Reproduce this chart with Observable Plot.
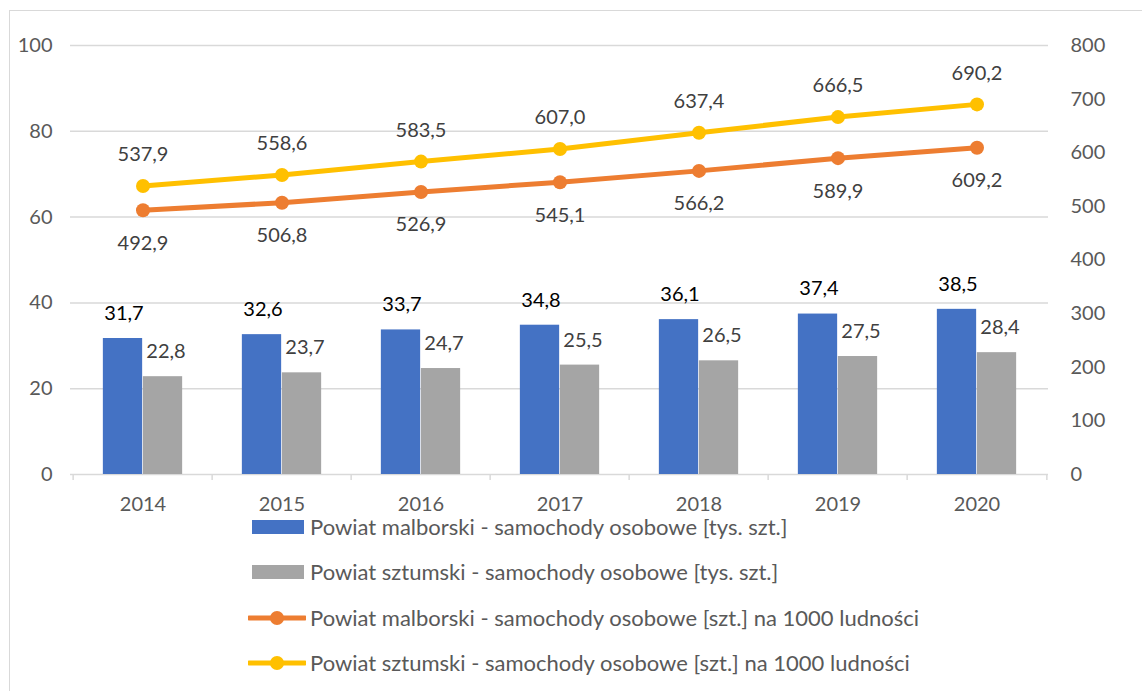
<!DOCTYPE html>
<html>
<head>
<meta charset="utf-8">
<script src="https://cdn.jsdelivr.net/npm/d3@7"></script>
<script src="https://cdn.jsdelivr.net/npm/@observablehq/plot@0.6"></script>
<style>
  body { margin: 0; background: #fff; font-family: Lato, "Open Sans", sans-serif; }
  #frame { position: absolute; left: 9px; top: 10px; width: 1140px; height: 690px; border: 1.5px solid #d9d9d9; box-sizing: border-box; }
  #chart { position: absolute; left: 0; top: 0; }
  #legend { position: absolute; left: 248px; top: 515px; color: #595959; font-size: 22px; }
  .row { height: 45.3px; display: flex; align-items: flex-start; }
  .row svg { margin-right: 4px; }
  .row span { line-height: 22px; margin-top: 1px; }
</style>
</head>
<body>
<div id="frame"></div>
<div id="chart"></div>
<div id="legend"></div>
<script>
const years = ["2014","2015","2016","2017","2018","2019","2020"];
const malborskiCars = [31.7, 32.6, 33.7, 34.8, 36.1, 37.4, 38.5];
const sztumskiCars = [22.8, 23.7, 24.7, 25.5, 26.5, 27.5, 28.4];
const malborskiPer1000 = [492.9, 506.8, 526.9, 545.1, 566.2, 589.9, 609.2];
const sztumskiPer1000 = [537.9, 558.6, 583.5, 607.0, 637.4, 666.5, 690.2];
const leftTicks = [0, 20, 40, 60, 80, 100];
const rightTicks = [0, 100, 200, 300, 400, 500, 600, 700, 800];
const seriesNames = [
  "Powiat malborski - samochody osobowe [tys. szt.]",
  "Powiat sztumski - samochody osobowe [tys. szt.]",
  "Powiat malborski - samochody osobowe [szt.] na 1000 ludności",
  "Powiat sztumski - samochody osobowe [szt.] na 1000 ludności"
];
const colors = ["#4472C4", "#A5A5A5", "#ED7D31", "#FFC000"];
const ratio = 8; // right axis / left axis

const fmt = v => v.toFixed(1).replace(".", ",");
const blue = years.map((y, i) => ({year: y, v: malborskiCars[i]}));
const gray = years.map((y, i) => ({year: y, v: sztumskiCars[i]}));
const orange = years.map((y, i) => ({year: y, v: malborskiPer1000[i]}));
const yellow = years.map((y, i) => ({year: y, v: sztumskiPer1000[i]}));

const half = (1048 - 70) / 7 / 2;
const font = "Lato, 'Open Sans', sans-serif";

const chart = Plot.plot({
  width: 1142,
  height: 520,
  marginLeft: 70,
  marginRight: 94,
  marginTop: 45,
  marginBottom: 46,
  style: {fontFamily: font, background: "transparent", overflow: "visible"},
  x: {type: "band", domain: years, padding: 0},
  y: {domain: [0, 100]},
  marks: [
    Plot.ruleY(leftTicks, {stroke: "#d9d9d9", strokeWidth: 1.5}),
    Plot.ruleX(years, {x: d => d, y1: 0, y2: -1.4, dx: -half, stroke: "#d9d9d9", strokeWidth: 1.5}),
    Plot.ruleX([years[years.length - 1]], {x: d => d, y1: 0, y2: -1.4, dx: half, stroke: "#d9d9d9", strokeWidth: 1.5}),
    Plot.axisY(leftTicks, {anchor: "left", tickSize: 0, tickPadding: 18, fontSize: 20, color: "#595959", label: null}),
    Plot.axisY(rightTicks.map(d => d / ratio), {anchor: "right", tickSize: 0, tickPadding: 22, fontSize: 20, color: "#595959", label: null, textAnchor: "start", tickFormat: d => String(Math.round(d * ratio))}),
    Plot.axisX({tickSize: 0, tickPadding: 22, fontSize: 20, color: "#595959", label: null}),
    Plot.barY(blue, {x: "year", y: "v", fill: colors[0], insetLeft: half - 40, insetRight: half}),
    Plot.barY(gray, {x: "year", y: "v", fill: colors[1], insetLeft: half, insetRight: half - 40}),
    Plot.text(blue, {x: "year", y: "v", text: d => fmt(d.v), dx: -19, dy: -25, fontSize: 20, fill: "#000"}),
    Plot.text(gray, {x: "year", y: "v", text: d => fmt(d.v), dx: 23, dy: -25, fontSize: 20, fill: "#404040"}),
    Plot.line(orange, {x: "year", y: d => d.v / ratio, stroke: colors[2], strokeWidth: 5}),
    Plot.dot(orange, {x: "year", y: d => d.v / ratio, r: 7, fill: colors[2]}),
    Plot.line(yellow, {x: "year", y: d => d.v / ratio, stroke: colors[3], strokeWidth: 5}),
    Plot.dot(yellow, {x: "year", y: d => d.v / ratio, r: 7, fill: colors[3]}),
    Plot.text(orange, {x: "year", y: d => d.v / ratio, text: d => fmt(d.v), dy: 33, fontSize: 20, fill: "#404040"}),
    Plot.text(yellow, {x: "year", y: d => d.v / ratio, text: d => fmt(d.v), dy: -31, fontSize: 20, fill: "#404040"})
  ]
});
document.getElementById("chart").appendChild(chart);

const legend = d3.select("#legend");
seriesNames.forEach((name, i) => {
  const row = legend.append("div").attr("class", "row");
  const svg = row.append("svg").attr("width", 58).attr("height", 24);
  if (i < 2) {
    svg.append("rect").attr("x", 4).attr("y", 5).attr("width", 52).attr("height", 14).attr("fill", colors[i]);
  } else {
    svg.append("line").attr("x1", 1).attr("x2", 57).attr("y1", 12).attr("y2", 12).attr("stroke", colors[i]).attr("stroke-width", 5).attr("stroke-linecap", "round");
    svg.append("circle").attr("cx", 29).attr("cy", 12).attr("r", 7).attr("fill", colors[i]);
  }
  row.append("span").text(name);
});
</script>
</body>
</html>
